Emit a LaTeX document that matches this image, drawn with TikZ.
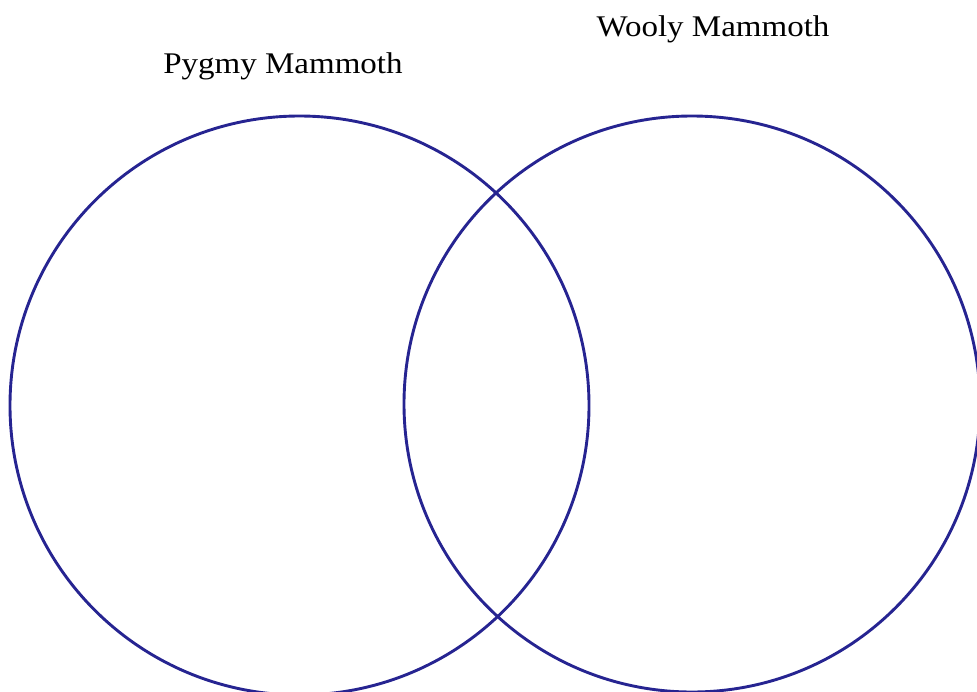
\documentclass[tikz,border=0pt]{standalone}
\usepackage{fontspec}
\setmainfont[FakeStretch=1.1]{Liberation Serif}
\definecolor{venn}{RGB}{38,36,145}
\begin{document}
\begin{tikzpicture}[x=1pt,y=-1pt,
  ring/.style={draw=venn,line width=2.9pt},
  title/.style={font=\fontsize{30}{32}\selectfont,anchor=base,inner sep=0pt}]
\useasboundingbox (0,0) rectangle (977,691);
\clip (0,0) rectangle (977,691);
\node[title] (pygmy) at (283,73) {Pygmy Mammoth};
\node[title] (wooly) at (713,36) {Wooly Mammoth};
\draw[ring] (299.5,405.5) circle[radius=289.5];
\draw[ring] (692,404) circle[radius=288];
\end{tikzpicture}
\end{document}
